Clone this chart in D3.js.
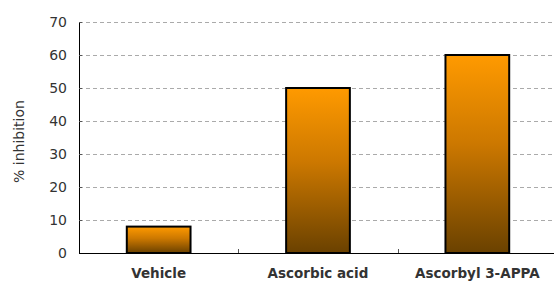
<!DOCTYPE html>
<html>
<head>
<meta charset="utf-8">
<script src="https://cdn.jsdelivr.net/npm/d3@7"></script>
<style>
  body { margin: 0; background: #fff; }
  text { font-family: "DejaVu Sans", Verdana, sans-serif; fill: #333; }
</style>
</head>
<body>
<svg id="chart" width="554" height="282"></svg>
<script>
// data
var categories = ["Vehicle", "Ascorbic acid", "Ascorbyl 3-APPA"];
var values     = [8, 50, 60];
var yTicks     = [0, 10, 20, 30, 40, 50, 60, 70];

var svg = d3.select('#chart'),
    margin = {top: 22, right: -3, bottom: 29, left: 79},
    width  = +svg.attr("width") - margin.left - margin.right,
    height = +svg.attr("height") - margin.top - margin.bottom;

var x = d3.scaleBand()
    .domain(categories)
    .range([0, width])
    .paddingInner(0.6)
    .paddingOuter(0.3);

var y = d3.scaleLinear()
    .domain([0, 70])
    .range([height, 0]);

var g = svg.append("g")
    .attr("transform", "translate(" + margin.left + "," + margin.top + ")");

// gradient for the bars
var grad = svg.append("defs").append("linearGradient")
    .attr("id", "barGrad")
    .attr("x1", 0).attr("y1", 0).attr("x2", 0).attr("y2", 1);
grad.append("stop").attr("offset", "0%").attr("stop-color", "#ff9a00");
grad.append("stop").attr("offset", "45%").attr("stop-color", "#cc7800");
grad.append("stop").attr("offset", "100%").attr("stop-color", "#6a4100");

// dashed gridlines
g.selectAll(".grid")
    .data(yTicks.slice(1))
    .enter().append("line")
    .attr("x1", 0).attr("x2", width)
    .attr("y1", function (d) { return y(d) + 0.5; })
    .attr("y2", function (d) { return y(d) + 0.5; })
    .attr("stroke", "#aaa")
    .attr("stroke-dasharray", "4,3");

// bars
g.selectAll(".bar")
    .data(values)
    .enter().append("rect")
    .attr("x", function (d, i) { return x(categories[i]); })
    .attr("y", function (d) { return y(d); })
    .attr("width", x.bandwidth())
    .attr("height", function (d) { return height - y(d); })
    .attr("fill", "url(#barGrad)")
    .attr("stroke", "#000")
    .attr("stroke-width", 2);

// y axis
var yAxis = g.append("g")
    .call(d3.axisLeft(y).tickValues(yTicks).tickSize(-3).tickPadding(12));
yAxis.select(".domain").attr("stroke", "#000").attr("d", "M0.5,0V" + height);
yAxis.selectAll(".tick line").attr("stroke", "#555");
yAxis.selectAll(".tick text")
    .style("font-size", "14px")
    .attr("fill", "#333");

// x axis with ticks between categories
var xAxis = g.append("g")
    .attr("transform", "translate(0," + height + ")");
xAxis.append("line")
    .attr("x1", 0).attr("x2", width)
    .attr("y1", 0.5).attr("y2", 0.5)
    .attr("stroke", "#000");
xAxis.selectAll(".sep")
    .data(categories.slice(1))
    .enter().append("line")
    .attr("x1", function (d) { return Math.round(x(d) - x.step() * x.paddingInner() / 2) + 0.5; })
    .attr("x2", function (d) { return Math.round(x(d) - x.step() * x.paddingInner() / 2) + 0.5; })
    .attr("y1", 0).attr("y2", -4)
    .attr("stroke", "#555");
xAxis.selectAll(".lbl")
    .data(categories)
    .enter().append("text")
    .attr("x", function (d) { return x(d) + x.bandwidth() / 2; })
    .attr("y", 25)
    .attr("text-anchor", "middle")
    .style("font-size", "13.5px")
    .style("font-weight", "bold")
    .text(function (d) { return d; });

// y label
svg.append("text")
    .attr("transform", "translate(24," + (margin.top + height / 2 + 4) + ") rotate(-90)")
    .attr("text-anchor", "middle")
    .style("font-size", "14px")
    .text("% inhibition");
</script>
</body>
</html>
